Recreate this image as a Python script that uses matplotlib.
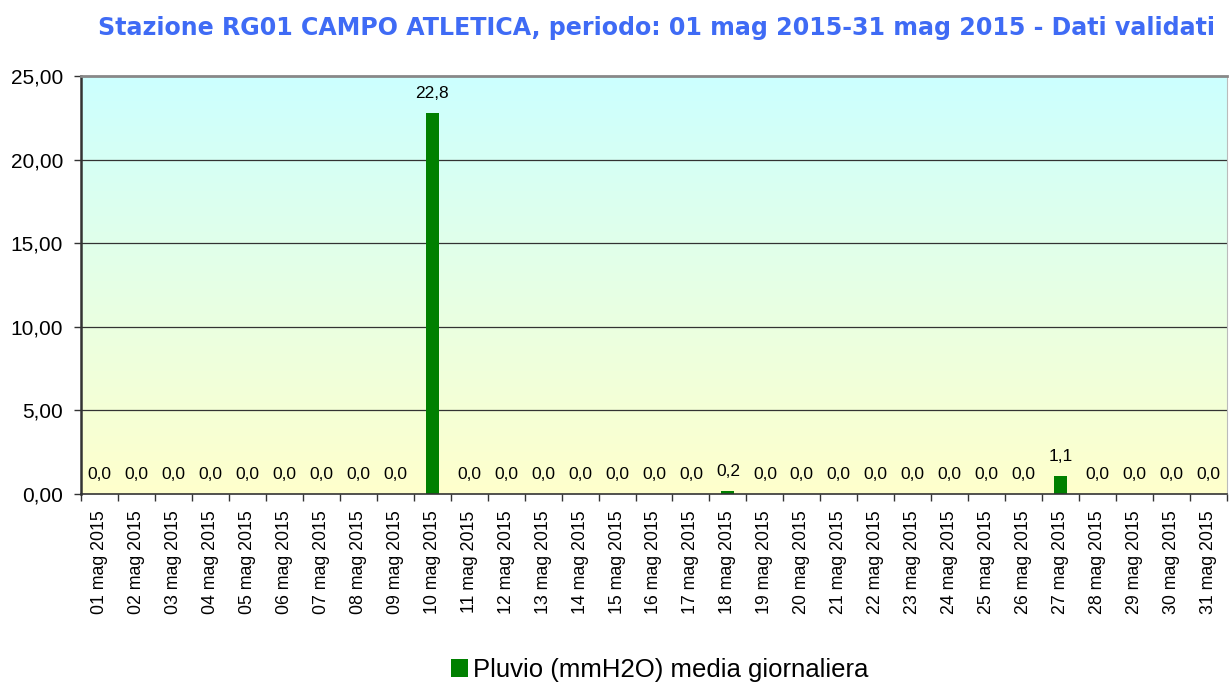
import matplotlib
matplotlib.use("Agg")
import matplotlib.pyplot as plt
import numpy as np
from matplotlib.colors import LinearSegmentedColormap

plt.rcParams['font.family'] = ['Liberation Sans', 'DejaVu Sans']

days = [f"{d:02d} mag 2015" for d in range(1, 32)]
values = [0.0]*9 + [22.8] + [0.0]*7 + [0.2] + [0.0]*8 + [1.1] + [0.0]*4
yticks = [0, 5, 10, 15, 20, 25]
title = "Stazione RG01 CAMPO ATLETICA, periodo: 01 mag 2015-31 mag 2015 - Dati validati"
legend_label = "Pluvio (mmH2O) media giornaliera"

fig = plt.figure(figsize=(12.29, 6.86), dpi=100)
ax = fig.add_axes([81/1229, 192/686, 1146/1229, 418/686])

n = len(days)
x = np.arange(n)
ax.set_xlim(-0.5, n - 0.5)
ax.set_ylim(0, 25)

# gradient background
cmap = LinearSegmentedColormap.from_list("bg", ["#FFFFCC", "#CCFFFF"])
grad = np.linspace(0, 1, 256).reshape(-1, 1)
ax.imshow(grad, aspect='auto', cmap=cmap, origin='lower',
          extent=[-0.5, n - 0.5, 0, 25], zorder=0)

for yv in yticks[1:-1]:
    ax.axhline(yv, color='#333333', lw=0.9, zorder=1)

bars = ax.bar(x, values, width=0.35, color='#008000', zorder=2, label=legend_label)

for xi, v in zip(x, values):
    ax.annotate(f"{v:.1f}".replace('.', ','), (xi, v), xytext=(0, 10.5),
                textcoords='offset points', ha='center', va='baseline', fontsize=12.5, color='black')

ax.set_yticks(yticks)
ax.set_yticklabels([f"{t:.2f}".replace('.', ',') for t in yticks], fontsize=15)
ax.set_xticks(np.arange(n + 1) - 0.5, minor=False)
ax.set_xticklabels([])
ax.set_xticks(x, minor=True)
ax.set_xticklabels(days, minor=True, rotation=90, fontsize=12.8)
ax.tick_params(axis='x', which='minor', length=0, pad=12)
ax.tick_params(axis='x', which='major', length=5, width=1, color='#333333', direction='out')
ax.tick_params(axis='y', length=5, width=1, color='#333333', direction='out', pad=8)

ax.spines['top'].set_color('#888888')
ax.spines['top'].set_linewidth(2)
ax.spines['right'].set_color('#bbbbbb')
ax.spines['right'].set_linewidth(0.8)
ax.spines['left'].set_color('#333333')
ax.spines['left'].set_linewidth(1.8)
ax.spines['bottom'].set_color('#333333')
ax.spines['bottom'].set_linewidth(1.2)

fig.text(657/1229, 1 - 28.5/686, title, ha='center', va='center', fontsize=17.1,
         fontweight='bold', color='#3F6BF5', family=['DejaVu Sans'])

handles, labels = ax.get_legend_handles_labels()
fig.legend(handles, labels, loc='center', bbox_to_anchor=(660/1229, 1 - 670/686),
           frameon=False, fontsize=18.5, handlelength=0.65, handleheight=0.65,
           handletextpad=0.2, borderpad=0)

fig.savefig("out.png", dpi=100, facecolor='white')
